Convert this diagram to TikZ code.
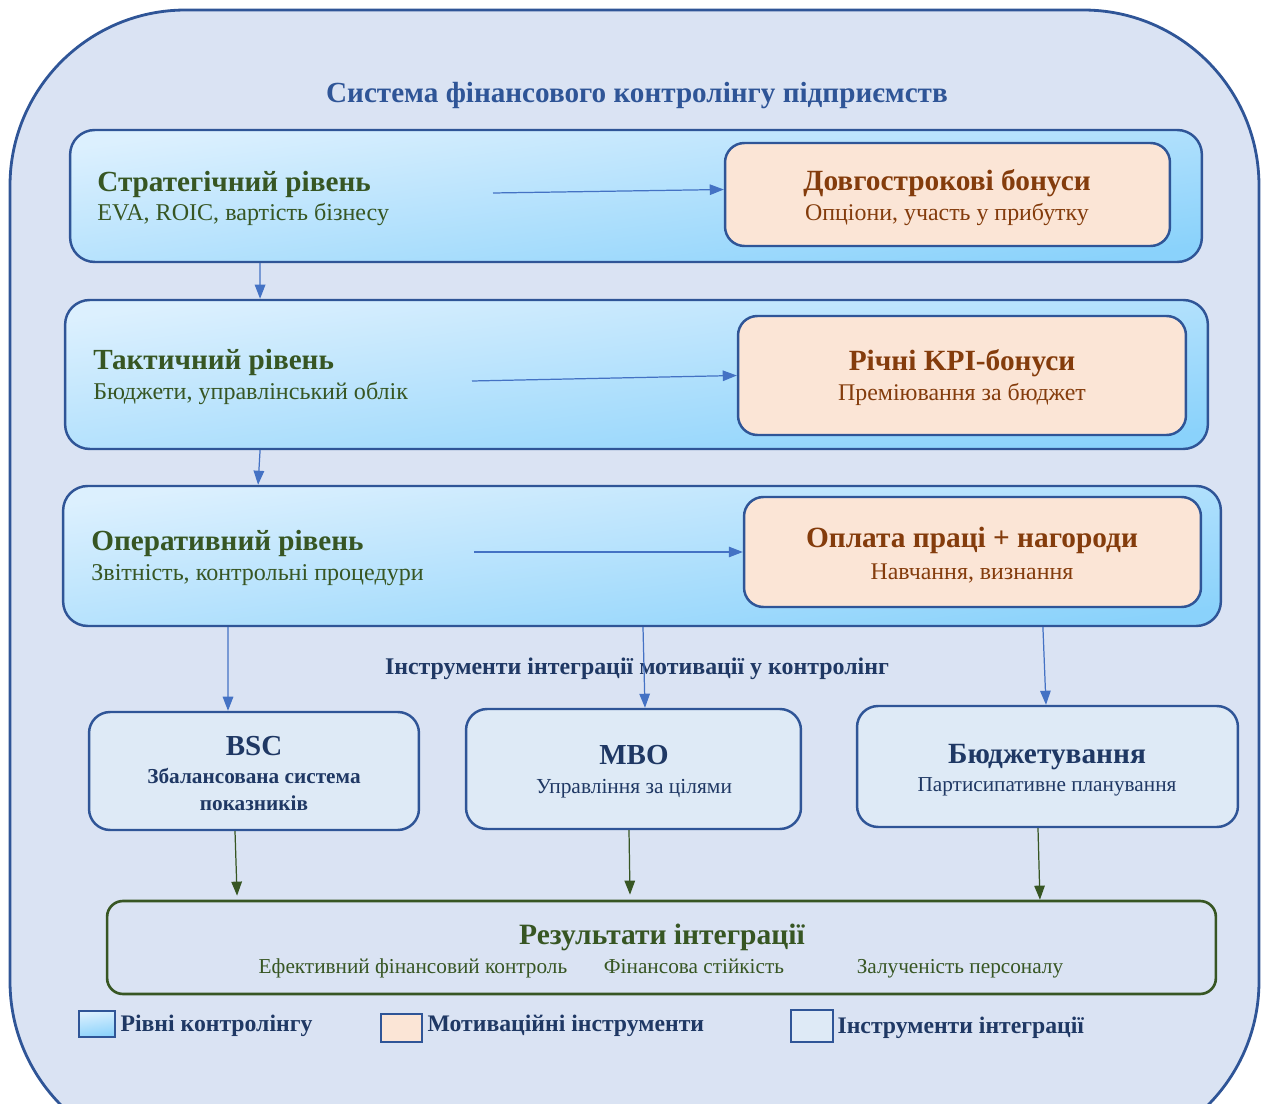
\documentclass[tikz,border=0pt]{standalone}
\usepackage{fontspec}
\setmainfont{Liberation Serif}
\usetikzlibrary{arrows.meta}

\definecolor{bgblue}{HTML}{DAE3F3}
\definecolor{frameblue}{HTML}{2F5597}
\definecolor{levtop}{HTML}{DCF0FE}
\definecolor{levbot}{HTML}{8AD2FB}
\definecolor{peach}{HTML}{FBE5D6}
\definecolor{integfill}{HTML}{DEEAF6}
\definecolor{arrblue}{HTML}{4472C4}
\definecolor{darkgreen}{HTML}{375623}
\definecolor{brown}{HTML}{843C0C}
\definecolor{navy}{HTML}{1F3864}

\tikzset{
  levelbox/.style={draw=frameblue, line width=1.4pt, rounded corners=14pt,
    top color=levtop, bottom color=levbot, shading angle=8, inner sep=0pt},
  motivbox/.style={draw=frameblue, line width=1.4pt, rounded corners=11pt,
    fill=peach, inner sep=0pt},
  integbox/.style={draw=frameblue, line width=1.4pt, rounded corners=12pt,
    fill=integfill, inner sep=0pt},
  resbox/.style={draw=darkgreen, line width=1.5pt, rounded corners=9pt, inner sep=0pt},
  levtitle/.style={anchor=base west, inner sep=0pt, text=darkgreen,
    font=\fontsize{16.6}{19}\selectfont\bfseries},
  levsub/.style={anchor=base west, inner sep=0pt, text=darkgreen,
    font=\fontsize{13.7}{16}\selectfont},
  mtitle/.style={anchor=base, inner sep=0pt, text=brown,
    font=\fontsize{16.7}{19}\selectfont\bfseries},
  msub/.style={anchor=base, inner sep=0pt, text=brown,
    font=\fontsize{13.6}{16}\selectfont},
  blarrow/.style={draw=arrblue, line width=0.7pt,
    -{Triangle[length=8pt,width=6pt]}, arrblue},
  grarrow/.style={draw=darkgreen, line width=0.7pt,
    -{Triangle[length=8pt,width=6pt]}, darkgreen},
  legtext/.style={anchor=west, inner sep=0pt, text=navy,
    font=\fontsize{13.5}{15}\selectfont\bfseries}
}

\begin{document}
\begin{tikzpicture}[x=0.02cm, y=-0.02cm]
\useasboundingbox (0,0) rectangle (1262,1104);
\clip (0,0) rectangle (1262,1104);

% фон
\draw[fill=bgblue, draw=frameblue, line width=1.6pt, rounded corners=100pt]
  (10,10) rectangle (1259,1157);

% заголовок
\node[anchor=base, text=frameblue, font=\fontsize{16.6}{19}\selectfont\bfseries] (title)
  at (637,103) {Система фінансового контролінгу підприємств};

% рівні контролінгу
\node[levelbox, minimum width=22.64cm, minimum height=2.64cm] (strat) at (636,196) {};
\node[levelbox, minimum width=22.86cm, minimum height=2.98cm] (tact) at (636.5,374.5) {};
\node[levelbox, minimum width=23.16cm, minimum height=2.8cm] (oper) at (642,556) {};

\node[levtitle] (stratT) at (97,192) {Стратегічний рівень};
\node[levsub] (stratS) at (97,221) {EVA, ROIC, вартість бізнесу};
\node[levtitle] (tactT) at (93,370) {Тактичний рівень};
\node[levsub] (tactS) at (93,400) {Бюджети, управлінський облік};
\node[levtitle] (operT) at (91,551) {Оперативний рівень};
\node[levsub] (operS) at (91,581) {Звітність, контрольні процедури};

% мотиваційні інструменти
\node[motivbox, minimum width=8.9cm, minimum height=2.06cm] (m1) at (947.5,194.5) {};
\node[motivbox, minimum width=8.96cm, minimum height=2.38cm] (m2) at (962,375.5) {};
\node[motivbox, minimum width=9.14cm, minimum height=2.2cm] (m3) at (972.5,552) {};

\node[mtitle] (m1T) at (947,191) {Довгострокові бонуси};
\node[msub] (m1S) at (947,221) {Опціони, участь у прибутку};
\node[mtitle] (m2T) at (962,371) {Річні KPI-бонуси};
\node[msub] (m2S) at (962,401) {Преміювання за бюджет};
\node[mtitle] (m3T) at (972,548) {Оплата праці + нагороди};
\node[msub] (m3S) at (972,580) {Навчання, визнання};

% стрілки рівень -> мотивація
\coordinate (s1) at (493,193);
\coordinate (s2) at (472,381);
\coordinate (s3) at (474,552);
\draw[blarrow] (s1) -- ([yshift=0.1cm]m1.west);
\draw[blarrow] (s2) -- (m2.west);
\draw[blarrow] (s3) -- (m3.west);

% стрілки між рівнями
\draw[blarrow] ([xshift=-7.52cm]strat.south) -- ([xshift=-7.53cm]tact.north);
\draw[blarrow] ([xshift=-7.53cm]tact.south) -- ([xshift=-7.68cm]oper.north);

% підпис
\node[anchor=base, text=navy, font=\fontsize{13.6}{16}\selectfont\bfseries] (integlbl)
  at (637,675) {Інструменти інтеграції мотивації у контролінг};

% інструменти інтеграції
\node[integbox, minimum width=6.6cm, minimum height=2.36cm] (bsc) at (254,771) {};
\node[integbox, minimum width=6.7cm, minimum height=2.4cm] (mbo) at (633.5,769) {};
\node[integbox, minimum width=7.62cm, minimum height=2.42cm] (budg) at (1047.5,766.5) {};

\node[anchor=base, text=navy, font=\fontsize{16.5}{19}\selectfont\bfseries] (bscT) at (254,756) {BSC};
\node[anchor=base, text=navy, font=\fontsize{12.1}{14}\selectfont\bfseries] (bscS1) at (254,784) {Збалансована система};
\node[anchor=base, text=navy, font=\fontsize{12.1}{14}\selectfont\bfseries] (bscS2) at (254,810) {показників};
\node[anchor=base, text=navy, font=\fontsize{16.5}{19}\selectfont\bfseries] (mboT) at (634,765) {MBO};
\node[anchor=base, text=navy, font=\fontsize{12.2}{14}\selectfont] (mboS) at (634,794) {Управління за цілями};
\node[anchor=base, text=navy, font=\fontsize{16.7}{19}\selectfont\bfseries] (budgT) at (1047,764) {Бюджетування};
\node[anchor=base, text=navy, font=\fontsize{12.1}{14}\selectfont] (budgS) at (1047,792) {Партисипативне планування};

% стрілки від оперативного рівня
\draw[blarrow] ([xshift=-8.28cm]oper.south) -- ([xshift=-0.52cm]bsc.north);
\draw[blarrow] ([xshift=0.02cm]oper.south) -- ([xshift=0.23cm]mbo.north);
\draw[blarrow] ([xshift=8.02cm]oper.south) -- ([xshift=-0.03cm]budg.north);

% результати
\node[resbox, minimum width=22.18cm, minimum height=1.86cm] (res) at (661.5,947.5) {};
\node[anchor=base, text=darkgreen, font=\fontsize{16.8}{19}\selectfont\bfseries] (resT)
  at (662,944) {Результати інтеграції};
\node[anchor=base, text=darkgreen, font=\fontsize{12.1}{14}\selectfont] (res1) at (413,973) {Ефективний фінансовий контроль};
\node[anchor=base, text=darkgreen, font=\fontsize{12.1}{14}\selectfont] (res2) at (694,973) {Фінансова стійкість};
\node[anchor=base, text=darkgreen, font=\fontsize{12.1}{14}\selectfont] (res3) at (960,973) {Залученість персоналу};

\draw[grarrow] ([xshift=-0.38cm]bsc.south) -- ([xshift=-8.49cm,yshift=0.08cm]res.north);
\draw[grarrow] ([xshift=-0.09cm]mbo.south) -- ([xshift=-0.63cm,yshift=0.1cm]res.north);
\draw[grarrow] ([xshift=-0.19cm]budg.south) -- ([xshift=7.57cm]res.north);

% легенда
\node[levelbox, rounded corners=0pt, minimum width=0.72cm, minimum height=0.52cm] (leg1) at (97,1024) {};
\node[motivbox, rounded corners=0pt, minimum width=0.82cm, minimum height=0.56cm] (leg2) at (401.5,1028) {};
\node[integbox, rounded corners=0pt, minimum width=0.84cm, minimum height=0.64cm] (leg3) at (812,1026) {};
\node[legtext] (leg1T) at ([xshift=0.08cm,yshift=-0.04cm]leg1.east) {Рівні контролінгу};
\node[legtext] (leg2T) at ([xshift=0.08cm,yshift=0.04cm]leg2.east) {Мотиваційні інструменти};
\node[legtext] (leg3T) at ([xshift=0.06cm,yshift=-0.03cm]leg3.east) {Інструменти інтеграції};

\end{tikzpicture}
\end{document}
